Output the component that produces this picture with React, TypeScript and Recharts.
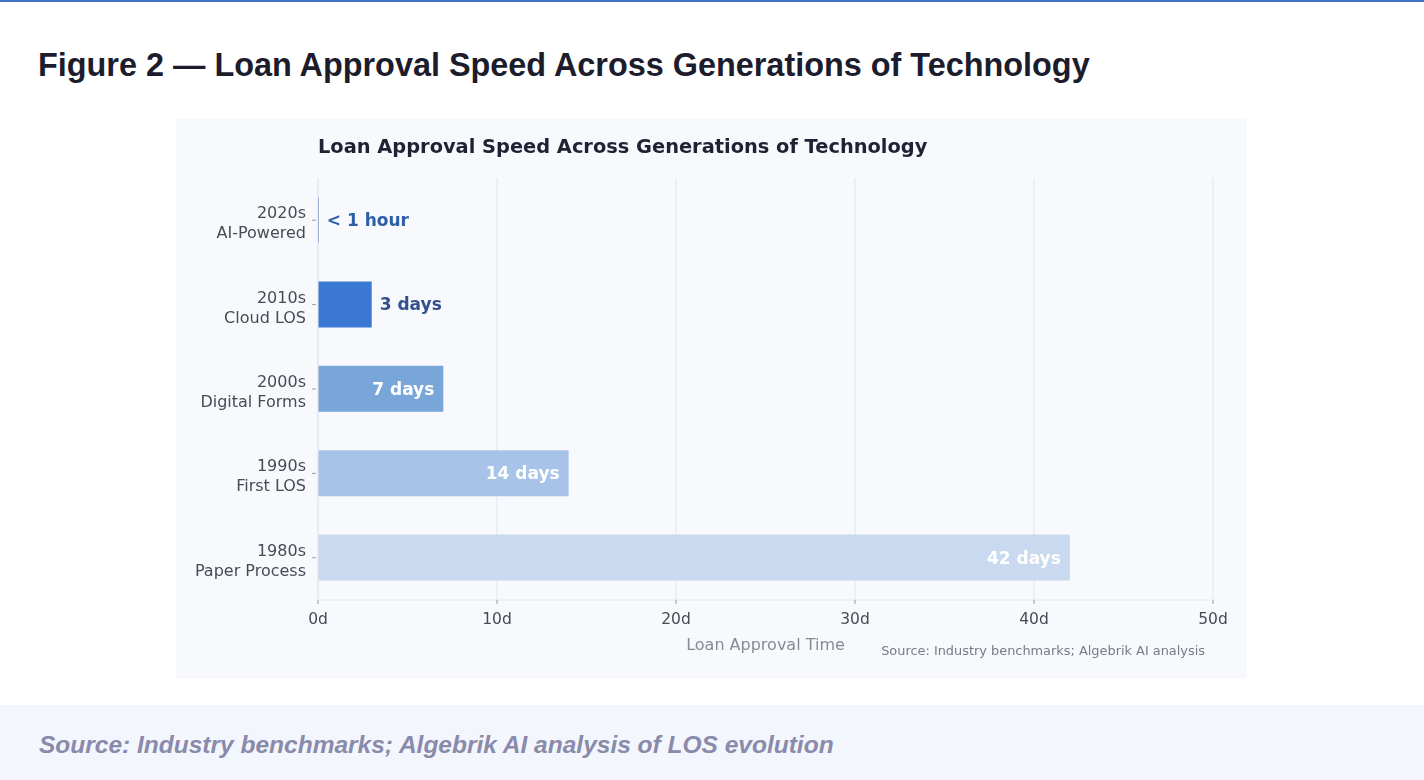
import { Bar, BarChart, CartesianGrid, Cell, LabelList, XAxis, YAxis } from 'recharts';

const eras = ['2020s', '2010s', '2000s', '1990s', '1980s'];
const systems = ['AI-Powered', 'Cloud LOS', 'Digital Forms', 'First LOS', 'Paper Process'];
const approvalDays = [1 / 24, 3, 7, 14, 42];
const valueLabels = ['< 1 hour', '3 days', '7 days', '14 days', '42 days'];
const barColors = ['#2f62b4', '#3a78d4', '#78a6d9', '#a7c3e8', '#c9d9ef'];
const dayTicks = [0, 10, 20, 30, 40, 50];

const rows = eras.map((era, i) => ({
  era,
  system: systems[i],
  days: approvalDays[i],
  label: valueLabels[i],
}));

const FONT = '"DejaVu Sans", sans-serif';

const EraTick = (props: any) => {
  const { x, y, payload } = props;
  const row = rows.find((r) => r.era === payload.value);
  return (
    <g>
      <line x1={x + 2} x2={x + 6} y1={y} y2={y} stroke="#9a9aa6" strokeWidth={1} />
      <text x={x - 4} y={y - 2} textAnchor="end" fontFamily={FONT} fontSize={16} fill="#4a4a55">
        {payload.value}
      </text>
      <text x={x - 4} y={y + 18} textAnchor="end" fontFamily={FONT} fontSize={16} fill="#4a4a55">
        {row?.system}
      </text>
    </g>
  );
};

const ValueLabel = (props: any) => {
  const { x, y, width, height, index } = props;
  const row = rows[index];
  const inside = row.days >= 5;
  const tx = inside ? x + width - 9 : x + width + 8;
  return (
    <text
      x={tx}
      y={y + height / 2 + 6}
      textAnchor={inside ? 'end' : 'start'}
      fontFamily={FONT}
      fontWeight="bold"
      fontSize={17}
      fill={inside ? '#ffffff' : index === 0 ? '#2f5ea8' : '#34508c'}
    >
      {row.label}
    </text>
  );
};

export default function App() {
  return (
    <div style={{ position: 'absolute', left: 0, top: 0, width: 1424, height: 780, background: '#ffffff', overflow: 'hidden' }}>
      <div style={{ position: 'absolute', left: 0, top: 0, width: 1424, height: 2, background: '#3d72c8' }} />
      <div
        style={{
          position: 'absolute',
          left: 38,
          top: 47,
          fontFamily: '"Liberation Sans", Arial, sans-serif',
          fontWeight: 'bold',
          fontSize: 32.4,
          color: '#1c1c2c',
          whiteSpace: 'nowrap',
        }}
      >
        Figure 2 — Loan Approval Speed Across Generations of Technology
      </div>

      <div style={{ position: 'absolute', left: 176, top: 119, width: 1071, height: 560, background: '#f7f9fd', filter: 'blur(0.4px)' }}>
        <div
          style={{
            position: 'absolute',
            left: 142,
            top: 16,
            fontFamily: FONT,
            fontWeight: 'bold',
            fontSize: 19.4,
            color: '#1f2233',
            whiteSpace: 'nowrap',
          }}
        >
          Loan Approval Speed Across Generations of Technology
        </div>
        <BarChart
          width={1071}
          height={560}
          data={rows}
          layout="vertical"
          margin={{ top: 59, right: 34, bottom: 49, left: 0 }}
          barCategoryGap="0%"
        >
          <CartesianGrid horizontal={false} stroke="#e3e5ee" />
          <XAxis
            type="number"
            domain={[0, 50]}
            ticks={dayTicks}
            tickFormatter={(v) => `${v}d`}
            height={30}
            axisLine={{ stroke: '#e6e8ef' }}
            tickLine={{ stroke: '#9a9aa6' }}
            tickSize={4}
            tickMargin={9}
            tick={{ fontFamily: FONT, fontSize: 15.5, fill: '#4a4a55' }}
            label={{ value: 'Loan Approval Time', position: 'insideBottom', offset: -20, fontFamily: FONT, fontSize: 16, fill: '#8a8a96' }}
          />
          <YAxis
            type="category"
            dataKey="era"
            width={142}
            axisLine={{ stroke: '#e6e8ef' }}
            tickLine={false}
            tick={<EraTick />}
          />
          <Bar dataKey="days" barSize={46} isAnimationActive={false}>
            {rows.map((r, i) => (
              <Cell key={r.era} fill={barColors[i]} />
            ))}
            <LabelList dataKey="label" content={<ValueLabel />} />
          </Bar>
        </BarChart>
        <div
          style={{
            position: 'absolute',
            right: 42,
            top: 524,
            fontFamily: FONT,
            fontSize: 12.9,
            color: '#7a7a88',
            whiteSpace: 'nowrap',
          }}
        >
          Source: Industry benchmarks; Algebrik AI analysis
        </div>
      </div>

      <div style={{ position: 'absolute', left: 0, top: 705, width: 1424, height: 75, background: '#f3f6fd' }}>
        <div
          style={{
            position: 'absolute',
            left: 39,
            top: 26,
            fontFamily: '"Liberation Sans", Arial, sans-serif',
            fontWeight: 'bold',
            fontStyle: 'italic',
            fontSize: 24.5,
            color: '#8a8aab',
            whiteSpace: 'nowrap',
          }}
        >
          Source: Industry benchmarks; Algebrik AI analysis of LOS evolution
        </div>
      </div>
    </div>
  );
}
